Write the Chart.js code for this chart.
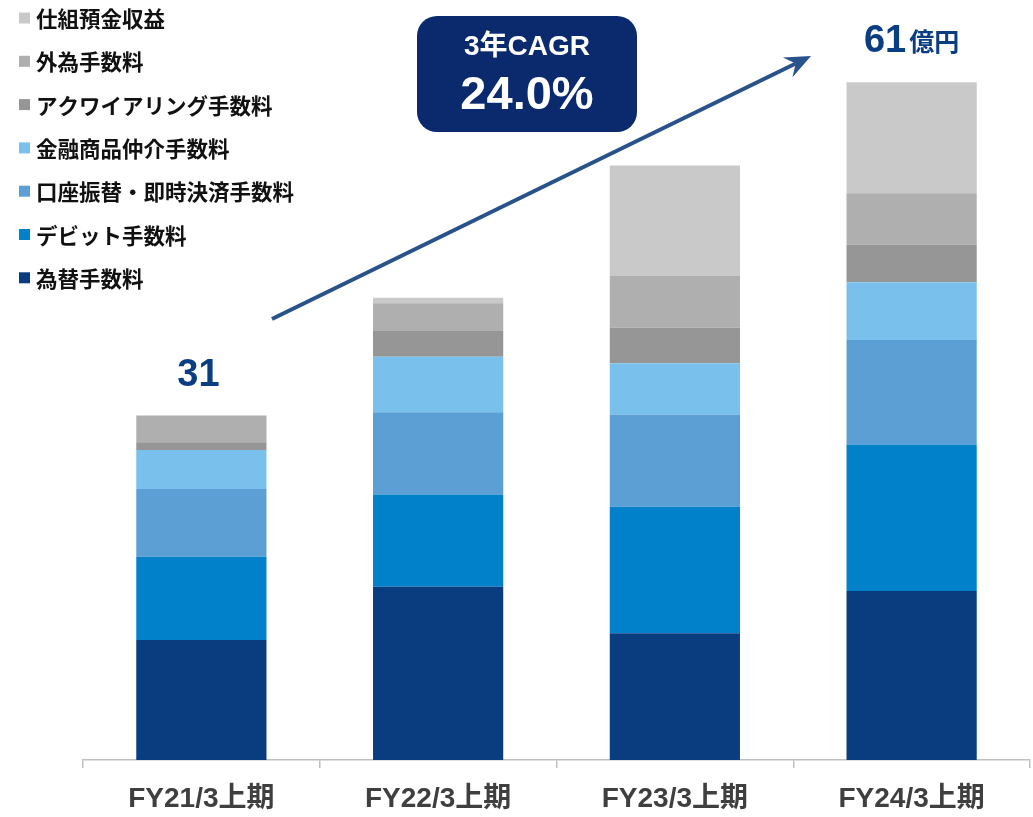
<!DOCTYPE html>
<html lang="ja">
<head>
<meta charset="utf-8">
<title>役務取引等収益の推移</title>
<script src="https://cdn.jsdelivr.net/npm/chart.js@4.4.1/dist/chart.umd.min.js"></script>
<style>
  html, body { margin: 0; padding: 0; background: #ffffff; }
  #wrap { position: relative; width: 1033px; height: 817px; }
</style>
</head>
<body>
<div id="wrap"><canvas id="chart" width="1033" height="817"></canvas></div>
<script>
// Half-year periods
const categories = ['FY21/3上期', 'FY22/3上期', 'FY23/3上期', 'FY24/3上期'];

// Fee income by type (億円), stacked from bottom to top
const fxFees        = [10.8, 15.6, 11.4, 15.2]; // 為替手数料
const debitFees     = [7.5, 8.3, 11.4, 13.2];   // デビット手数料
const transferFees  = [6.1, 7.4, 8.3, 9.4];     // 口座振替・即時決済手数料
const brokerageFees = [3.5, 5.0, 4.6, 5.2];     // 金融商品仲介手数料
const acquiringFees = [0.7, 2.3, 3.2, 3.4];     // アクワイアリング手数料
const forexFees     = [2.4, 2.5, 4.7, 4.6];     // 外為手数料
const structuredDep = [0.0, 0.5, 9.9, 10.0];    // 仕組預金収益

const seriesLabels = ['為替手数料', 'デビット手数料', '口座振替・即時決済手数料', '金融商品仲介手数料',
                      'アクワイアリング手数料', '外為手数料', '仕組預金収益'];
const seriesData   = [fxFees, debitFees, transferFees, brokerageFees, acquiringFees, forexFees, structuredDep];
const seriesColors = ['#0a3c80', '#0081ca', '#5c9fd4', '#79c1ec', '#969696', '#afafaf', '#c9c9c9'];

// Totals labelled above the first and last bars
const labelledBars = [0, 3];
const totalUnit = '億円';
const cagrTitle = '3年CAGR';
const cagrValue = '24.0%';

const LATIN = '"Liberation Sans", Arial, "Noto Sans CJK JP", sans-serif';
const CJK = '"Noto Sans CJK JP", "Liberation Sans", sans-serif';
const NAVY = '#0b3d82';

function totalOf(i) {
  return seriesData.reduce((s, arr) => s + arr[i], 0);
}

// Legend, growth arrow, CAGR badge and total labels
const overlay = {
  id: 'overlay',
  afterDraw(chart) {
    const ctx = chart.ctx;
    const ds = chart.data.datasets;

    // legend: top series first
    ctx.save();
    ctx.textBaseline = 'middle';
    ctx.textAlign = 'left';
    ctx.font = 'bold 21.5px ' + CJK;
    for (let k = 0; k < ds.length; k++) {
      const d = ds[ds.length - 1 - k];
      const y = 18 + k * 43.3;
      ctx.fillStyle = d.backgroundColor;
      ctx.fillRect(19, y - 5.5, 11, 11);
      ctx.fillStyle = '#111111';
      ctx.fillText(d.label, 36, y + 1);
    }
    ctx.restore();

    // growth arrow
    const sx = 272, sy = 319, tx = 811, ty = 56;
    const len = Math.hypot(tx - sx, ty - sy);
    const ux = (tx - sx) / len, uy = (ty - sy) / len;
    const nx = -uy, ny = ux;
    const hl = 26, hw = 11, notch = 17;
    ctx.save();
    ctx.strokeStyle = '#27528a';
    ctx.fillStyle = '#27528a';
    ctx.lineWidth = 4;
    ctx.beginPath();
    ctx.moveTo(sx, sy);
    ctx.lineTo(tx - notch * ux, ty - notch * uy);
    ctx.stroke();
    ctx.beginPath();
    ctx.moveTo(tx, ty);
    ctx.lineTo(tx - hl * ux + hw * nx, ty - hl * uy + hw * ny);
    ctx.lineTo(tx - notch * ux, ty - notch * uy);
    ctx.lineTo(tx - hl * ux - hw * nx, ty - hl * uy - hw * ny);
    ctx.closePath();
    ctx.fill();
    ctx.restore();

    // CAGR badge
    ctx.save();
    ctx.fillStyle = '#0b2a6e';
    ctx.beginPath();
    ctx.roundRect(417, 16, 220, 116, 20);
    ctx.fill();
    ctx.fillStyle = '#ffffff';
    ctx.textAlign = 'center';
    ctx.textBaseline = 'middle';
    ctx.font = 'bold 28px ' + LATIN;
    ctx.fillText(cagrTitle, 527, 47);
    ctx.font = 'bold 47px ' + LATIN;
    ctx.fillText(cagrValue, 527, 96);
    ctx.restore();

    // totals above bars
    const meta = chart.getDatasetMeta(ds.length - 1);
    ctx.save();
    ctx.fillStyle = NAVY;
    ctx.textBaseline = 'alphabetic';
    labelledBars.forEach((i, n) => {
      const bar = meta.data[i];
      const total = Math.round(totalOf(i));
      const y = bar.y - 30;
      if (n === labelledBars.length - 1) {
        ctx.font = 'bold 38px ' + LATIN;
        const numW = ctx.measureText(String(total)).width;
        ctx.font = 'bold 25px ' + CJK;
        const unitW = ctx.measureText(totalUnit).width;
        const x0 = bar.x - (numW + unitW + 3) / 2;
        ctx.textAlign = 'left';
        ctx.font = 'bold 38px ' + LATIN;
        ctx.fillText(String(total), x0, y);
        ctx.font = 'bold 25px ' + CJK;
        ctx.fillText(totalUnit, x0 + numW + 3, y - 1);
      } else {
        ctx.textAlign = 'center';
        ctx.font = 'bold 38px ' + LATIN;
        ctx.fillText(String(total), bar.x - 3, y);
      }
    });
    ctx.restore();
  }
};

new Chart(document.getElementById('chart'), {
  type: 'bar',
  data: {
    labels: categories,
    datasets: seriesData.map((arr, i) => ({
      label: seriesLabels[i],
      data: arr,
      backgroundColor: seriesColors[i],
      borderWidth: 0,
      categoryPercentage: 1.0,
      barPercentage: 0.55
    }))
  },
  options: {
    responsive: false,
    animation: false,
    layout: { padding: { left: 83, right: 3, top: 10, bottom: 0 } },
    plugins: {
      legend: { display: false },
      tooltip: { enabled: false }
    },
    scales: {
      x: {
        stacked: true,
        afterFit(scale) { scale.height = 57; },
        grid: {
          offset: true,
          drawOnChartArea: false,
          drawTicks: true,
          tickLength: 8,
          color: '#bfbfbf',
          lineWidth: 1.5
        },
        border: { display: true, color: '#bfbfbf', width: 1.5 },
        ticks: {
          padding: 14,
          color: '#3f3f3f',
          font: { family: LATIN, size: 28, weight: 'bold' }
        }
      },
      y: {
        stacked: true,
        display: false,
        min: 0,
        max: 67.5
      }
    }
  },
  plugins: [overlay]
});
</script>
</body>
</html>
